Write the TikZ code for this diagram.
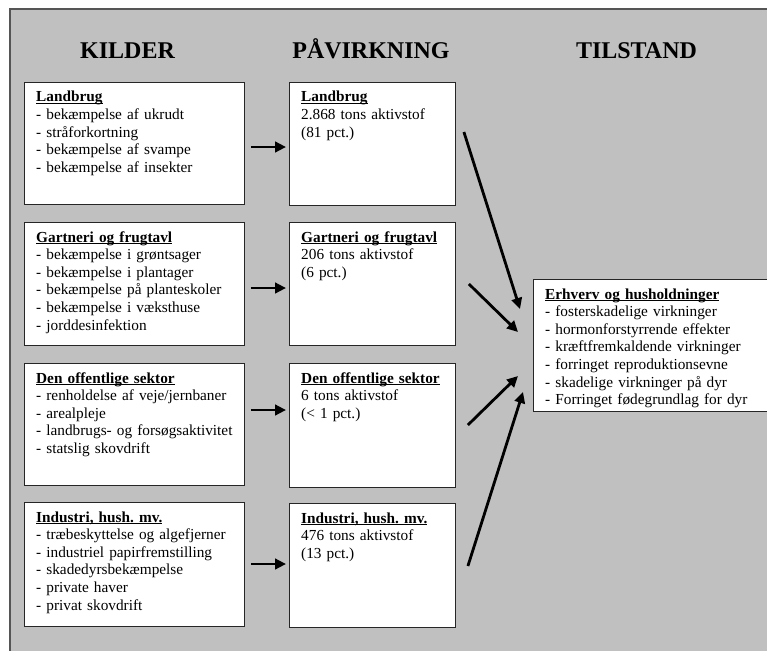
\documentclass[tikz,border=0pt]{standalone}
\usepackage{fontspec}
\setmainfont{Liberation Serif}
\usetikzlibrary{arrows.meta}
\definecolor{bg}{HTML}{C0C0C0}
\definecolor{frameline}{HTML}{555555}
\frenchspacing
\newsavebox\ulbox
\newcommand\myul[1]{\sbox\ulbox{\textbf{#1}}\rlap{\rule[-1.8pt]{\wd\ulbox}{1.1pt}}\usebox\ulbox}
\begin{document}
\begin{tikzpicture}[x=1pt,y=-1pt,
  box/.style={draw=black!85, line width=0.9pt, fill=white, inner sep=0pt, anchor=north west},
  txt/.style={anchor=base west, inner sep=0pt, text width=215pt, align=left, font=\fontsize{15.3}{17.6}\selectfont\frenchspacing},
  head/.style={anchor=base, inner sep=0pt, font=\fontsize{24}{28}\selectfont\bfseries},
  arr/.style={line width=2.8pt, -{Triangle[length=11pt,width=10.5pt]}}]
\useasboundingbox (0,0) rectangle (767,650);
\clip (0,0) rectangle (767,650);
\fill[bg] (10,9) rectangle (780,660);
\draw[frameline, line width=1.2pt] (10,660) -- (10,9) -- (780,9);

\node[head] (hk) at (127.5,58.5) {KILDER};
\node[head] (hp) at (371,58.5) {PÅVIRKNING};
\node[head] (ht) at (636.5,58.5) {TILSTAND};

\node[box, minimum width=220pt, minimum height=122pt] (L1) at (24,82) {};
\node[box, minimum width=220pt, minimum height=123pt] (L2) at (24,222) {};
\node[box, minimum width=220pt, minimum height=122pt] (L3) at (24,363) {};
\node[box, minimum width=220pt, minimum height=124pt] (L4) at (24,502) {};
\node[box, minimum width=166pt, minimum height=123pt] (M1) at (289,82) {};
\node[box, minimum width=166pt, minimum height=123pt] (M2) at (289,222) {};
\node[box, minimum width=166pt, minimum height=124pt] (M3) at (289,363) {};
\node[box, minimum width=166pt, minimum height=124pt] (M4) at (289,503) {};
\node[box, minimum width=245pt, minimum height=132pt] (R) at (533,279) {};

\node[txt] (tL1) at (36,102) {\myul{Landbrug}\\- bekæmpelse af ukrudt\\- stråforkortning\\- bekæmpelse af svampe\\- bekæmpelse af insekter};
\node[txt] (tL2) at (36,242) {\myul{Gartneri og frugtavl}\\- bekæmpelse i grøntsager\\- bekæmpelse i plantager\\- bekæmpelse på planteskoler\\- bekæmpelse i væksthuse\\- jorddesinfektion};
\node[txt] (tL3) at (36,383) {\myul{Den offentlige sektor}\\- renholdelse af veje/jernbaner\\- arealpleje\\- landbrugs- og forsøgsaktivitet\\- statslig skovdrift};
\node[txt] (tL4) at (36,522) {\myul{Industri, hush. mv.}\\- træbeskyttelse og algefjerner\\- industriel papirfremstilling\\- skadedyrsbekæmpelse\\- private haver\\- privat skovdrift};

\node[txt] (tM1) at (301,102) {\myul{Landbrug}\\2.868 tons aktivstof\\(81 pct.)};
\node[txt] (tM2) at (301,242) {\myul{Gartneri og frugtavl}\\206 tons aktivstof\\(6 pct.)};
\node[txt] (tM3) at (301,383) {\myul{Den offentlige sektor}\\6 tons aktivstof\\(< 1 pct.)};
\node[txt] (tM4) at (301,523) {\myul{Industri, hush. mv.}\\476 tons aktivstof\\(13 pct.)};

\node[txt] (tR) at (545,299) {\myul{Erhverv og husholdninger}\\- fosterskadelige virkninger\\- hormonforstyrrende effekter\\- kræftfremkaldende virkninger\\- forringet reproduktionsevne\\- skadelige virkninger på dyr\\- Forringet fødegrundlag for dyr};

\draw[arr] ([shift={(6,65)}]L1.north east) -- ([shift={(-3,65)}]M1.north west);
\draw[arr] ([shift={(6,66)}]L2.north east) -- ([shift={(-3,66)}]M2.north west);
\draw[arr] ([shift={(6,47)}]L3.north east) -- ([shift={(-3,47)}]M3.north west);
\draw[arr] ([shift={(6,62)}]L4.north east) -- ([shift={(-3,61)}]M4.north west);

\draw[arr] ([shift={(8,50)}]M1.north east) -- ([shift={(-13,30)}]R.north west);
\draw[arr] ([shift={(13,62)}]M2.north east) -- ([shift={(-15,53)}]R.north west);
\draw[arr] ([shift={(12,62)}]M3.north east) -- ([shift={(-15,97)}]R.north west);
\draw[arr] ([shift={(12,63)}]M4.north east) -- ([shift={(-10,113)}]R.north west);
\end{tikzpicture}
\end{document}
